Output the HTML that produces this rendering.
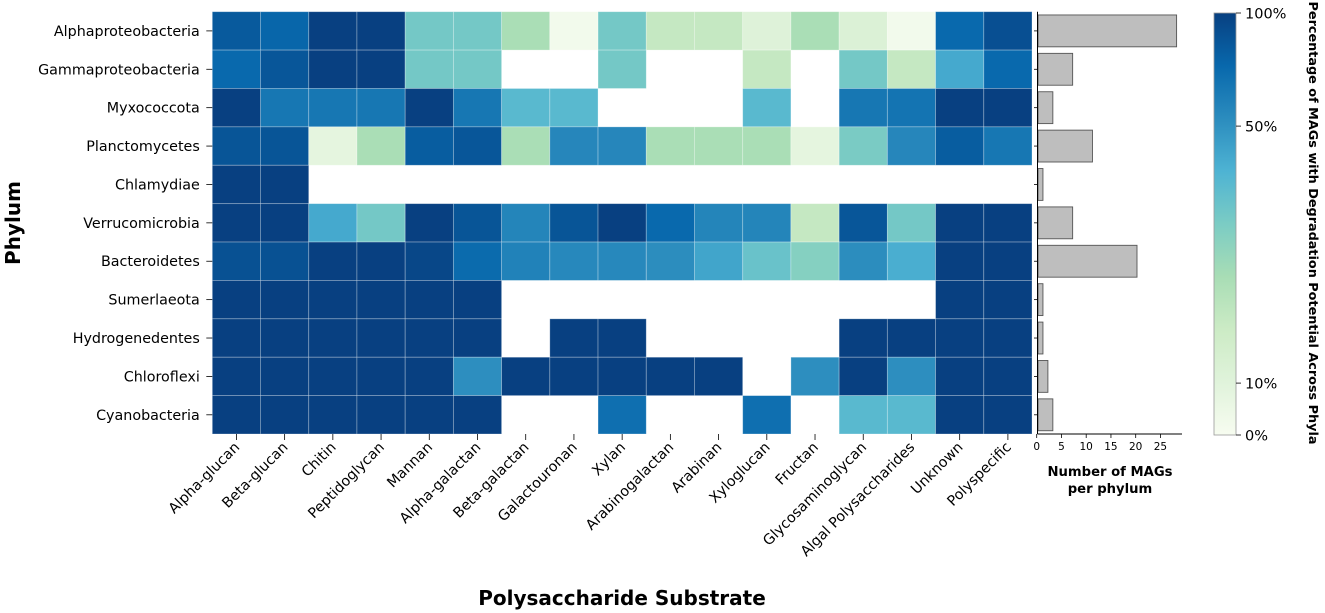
<!DOCTYPE html>
<html><head><meta charset="utf-8"><style>
body{margin:0;background:#fff}
svg{display:block;font-family:"DejaVu Sans","Liberation Sans",sans-serif}
</style></head><body>
<svg id="chart" width="1325" height="613" xmlns="http://www.w3.org/2000/svg"></svg>
<script>
const phyla = ["Alphaproteobacteria","Gammaproteobacteria","Myxococcota","Planctomycetes","Chlamydiae","Verrucomicrobia","Bacteroidetes","Sumerlaeota","Hydrogenedentes","Chloroflexi","Cyanobacteria"];
const substrates = ["Alpha-glucan","Beta-glucan","Chitin","Peptidoglycan","Mannan","Alpha-galactan","Beta-galactan","Galactouronan","Xylan","Arabinogalactan","Arabinan","Xyloglucan","Fructan","Glycosaminoglycan","Algal Polysaccharides","Unknown","Polyspecific"];
const N = null;
const pctAlpha = [85,78,100,100,36,36,26,2,36,20,20,11,26,12,2,76,91];
const pctGamma = [76,87,100,100,36,36,N,N,36,N,N,20,N,36,20,45,76];
const pctMyxo = [100,67,67,67,100,67,41,41,N,N,N,41,N,67,69,100,100];
const pctPlancto = [88,88,8,26,83,87,26,57,57,26,26,26,8,35,57,83,67];
const pctChlam = [100,100,N,N,N,N,N,N,N,N,N,N,N,N,N,N,N];
const pctVerruco = [100,100,45,36,100,88,58,88,100,76,58,58,20,87,36,100,100];
const pctBactero = [90,90,100,100,96,75,60,56,56,53,46,38,33,53,44,100,100];
const pctSumer = [100,100,100,100,100,100,N,N,N,N,N,N,N,N,N,100,100];
const pctHydro = [100,100,100,100,100,100,N,100,100,N,N,N,N,100,100,100,100];
const pctChloro = [100,100,100,100,100,52,100,100,100,100,100,N,52,100,52,100,100];
const pctCyano = [100,100,100,100,100,100,N,N,72,N,N,72,N,41,41,100,100];
const matrix = [pctAlpha,pctGamma,pctMyxo,pctPlancto,pctChlam,pctVerruco,pctBactero,pctSumer,pctHydro,pctChloro,pctCyano];
const magCounts = [28,7,3,11,1,7,20,1,1,2,3];
const barTicks = [0,5,10,15,20,25];
const cbarTicks = [0,10,50,100];
const cbarTickLabels = ["0%","10%","50%","100%"];

const svg = document.getElementById('chart');
const NS = "http://www.w3.org/2000/svg";
function mk(tag, attrs, parent){const e=document.createElementNS(NS,tag);for(const k in attrs)e.setAttribute(k,attrs[k]);(parent||svg).appendChild(e);return e;}

const HX0=212.3, HX1=1032, HY0=11.7, HY1=434;
const cw=(HX1-HX0)/substrates.length, ch=(HY1-HY0)/phyla.length;
const xCol = i => HX0 + i*cw;
const yRow = j => HY0 + j*ch;
const normP=[0,10,50,100], normT=[0,0.123,0.732,1];
function norm(v){for(let i=1;i<normP.length;i++){if(v<=normP[i]){return normT[i-1]+(v-normP[i-1])/(normP[i]-normP[i-1])*(normT[i]-normT[i-1]);}}return 1;}
const gnbu=["#f7fcf0","#e0f3db","#ccebc5","#a8ddb5","#7bccc4","#4eb3d3","#2b8cbe","#0868ac","#084081"];
function hex(h){return [1,3,5].map(i=>parseInt(h.substr(i,2),16));}
function cmap(t){t=Math.max(0,Math.min(1,t));const p=t*(gnbu.length-1);const i=Math.min(Math.floor(p),gnbu.length-2);const f=p-i;const a=hex(gnbu[i]),b=hex(gnbu[i+1]);return "rgb("+a.map((x,k)=>Math.round(x+(b[k]-x)*f)).join(",")+")";}

const gH = mk('g',{});


matrix.forEach((row,j)=>row.forEach((v,i)=>{
  if(v===null) return;
  const r = mk('rect',{x:xCol(i),y:yRow(j),width:cw,height:ch,fill:cmap(norm(v)),stroke:"rgba(255,255,255,0.35)","stroke-width":0.8},gH);
  
  
}));

phyla.forEach((p,j)=>{
  const cy=yRow(j)+ch/2;
  mk('line',{x1:HX0-6,x2:HX0,y1:cy,y2:cy,stroke:"#000","stroke-width":0.8});
  const t=mk('text',{x:HX0-12.5,y:cy+5,"text-anchor":"end","font-size":14.3,fill:"#000"});
  t.textContent=p;
  
  
});
substrates.forEach((s,i)=>{
  const cx=xCol(i)+cw/2;
  mk('line',{x1:cx,x2:cx,y1:HY1,y2:HY1+6,stroke:"#000","stroke-width":0.8});
  const t=mk('text',{x:cx+4,y:HY1+14,"text-anchor":"end","font-size":14.3,fill:"#000",transform:`rotate(-45 ${cx+4} ${HY1+14})`});
  t.textContent=s;
  
  
});
const yt=mk('text',{x:20,y:223,"text-anchor":"middle","font-size":20,"font-weight":"bold",transform:"rotate(-90 20 223)"});
yt.textContent="Phylum";


const xt=mk('text',{x:622,y:605,"text-anchor":"middle","font-size":20,"font-weight":"bold"});
xt.textContent="Polysaccharide Substrate";



const BX0=1038, BX1=1182, bpx=4.95;
const xB = v => BX0 + v*bpx;
const gB=mk('g',{});


magCounts.forEach((c,j)=>{
  const cy=yRow(j)+ch/2, bh=ch*0.83;
  const r=mk('rect',{x:BX0,y:cy-bh/2,width:xB(c)-BX0,height:bh,fill:"#bebebe",stroke:"#555","stroke-width":0.9},gB);
  
  
  mk('line',{x1:BX0-4,x2:BX0,y1:cy,y2:cy,stroke:"#000","stroke-width":0.8});
});
mk('line',{x1:BX0-0.5,x2:BX0-0.5,y1:HY0,y2:HY1,stroke:"#000","stroke-width":1});
mk('line',{x1:BX0-0.5,x2:BX1,y1:HY1,y2:HY1,stroke:"#000","stroke-width":1});
barTicks.forEach(v=>{
  const x=xB(v)-1.3;
  mk('line',{x1:x,x2:x,y1:HY1,y2:HY1+4,stroke:"#000","stroke-width":0.8});
  const t=mk('text',{x:x,y:HY1+16,"text-anchor":"middle","font-size":10.5});
  t.textContent=v;
  
  
});
const bt1=mk('text',{x:1110,y:476,"text-anchor":"middle","font-size":13.2,"font-weight":"bold"});
bt1.textContent="Number of MAGs";


const bt2=mk('text',{x:1110,y:493,"text-anchor":"middle","font-size":13.2,"font-weight":"bold"});
bt2.textContent="per phylum";



const CX=1214, CW=22, CY0=13, CY1=435;
const defs=mk('defs',{});
const lg=mk('linearGradient',{id:"cg",x1:0,y1:1,x2:0,y2:0},defs);
gnbu.forEach((c,i)=>mk('stop',{offset:i/(gnbu.length-1),"stop-color":c},lg));
const cb=mk('rect',{x:CX,y:CY0,width:CW,height:CY1-CY0,fill:"url(#cg)",stroke:"#999","stroke-width":0.8});


cbarTicks.forEach((v,k)=>{
  const y=CY1-norm(v)*(CY1-CY0);
  mk('line',{x1:CX+CW,x2:CX+CW+5,y1:y,y2:y,stroke:"#000","stroke-width":0.8});
  const t=mk('text',{x:CX+CW+9,y:y+5.5,"font-size":14.5});
  t.textContent=cbarTickLabels[k];
  
  
});
const ct=mk('text',{x:1309,y:223,"text-anchor":"middle","font-size":12.8,"font-weight":"bold",transform:"rotate(90 1309 223)"});
ct.textContent="Percentage of MAGs with Degradation Potential Across Phyla";


</script>
</body></html>
